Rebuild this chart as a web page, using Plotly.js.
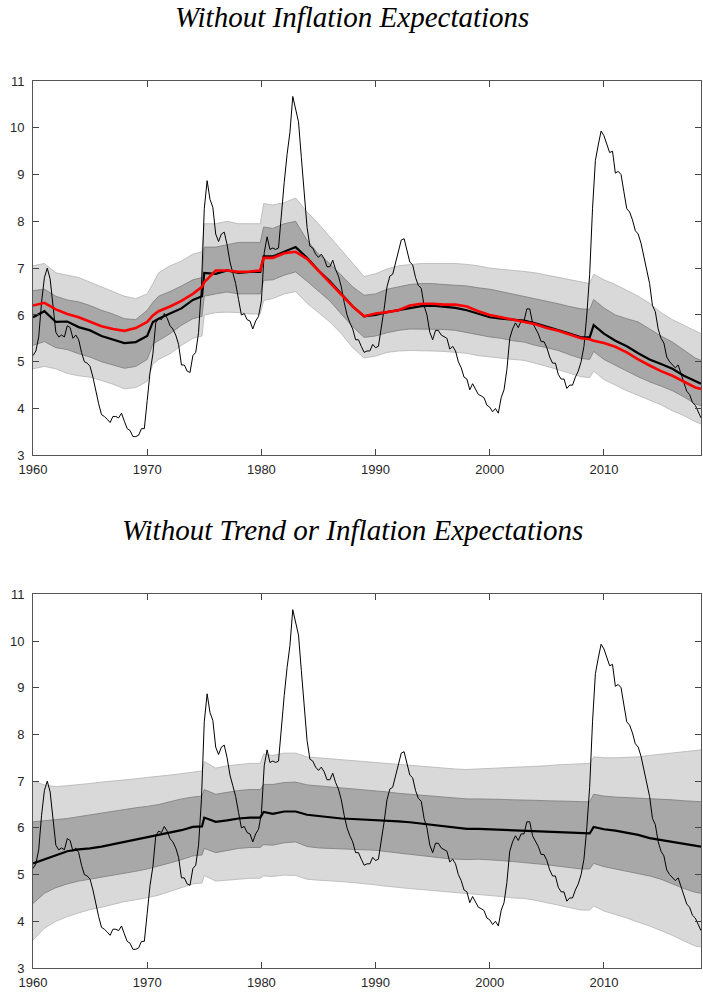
<!DOCTYPE html>
<html>
<head>
<meta charset="utf-8">
<script src="https://cdn.plot.ly/plotly-3.0.1.min.js"></script>
<style>html,body{margin:0;padding:0;background:#fff;}#chart{width:703px;height:993px;}</style>
</head>
<body>
<div id="chart"></div>
<script>
// ---------------- DATA ----------------
const titleTop = "Without Inflation Expectations";
const titleBottom = "Without Trend or Inflation Expectations";
const xTickVals = [1960, 1970, 1980, 1990, 2000, 2010];
const xTickText = ["1960", "1970", "1980", "1990", "2000", "2010"];
const yTickVals = [3, 4, 5, 6, 7, 8, 9, 10, 11];

// quarterly unemployment rate, 1960Q1 .. 2018Q3
const unempStartYear = 1960;
const unemployment = [
5.13,5.23,5.53,6.27, 6.80,7.00,6.77,6.20, 5.63,5.53,5.57,5.53, 5.77,5.73,5.50,5.57,
5.47,5.20,5.00,4.97, 4.90,4.67,4.37,4.10, 3.87,3.83,3.77,3.70, 3.83,3.83,3.80,3.90,
3.73,3.57,3.53,3.40, 3.40,3.43,3.57,3.57, 4.17,4.77,5.17,5.83, 5.93,5.90,6.03,5.93,
5.77,5.70,5.57,5.37, 4.93,4.93,4.80,4.77, 5.13,5.20,5.63,6.60, 8.27,8.87,8.47,8.30,
7.73,7.57,7.73,7.77, 7.50,7.13,6.90,6.67, 6.33,6.00,6.03,5.90, 5.87,5.70,5.87,5.97,
6.30,7.33,7.67,7.40, 7.43,7.40,7.43,8.23, 8.83,9.43,9.90,10.67, 10.37,10.13,9.37,8.53,
7.87,7.47,7.43,7.30, 7.23,7.30,7.20,7.03, 7.03,7.17,6.97,6.83, 6.60,6.27,6.00,5.83,
5.70,5.47,5.47,5.33, 5.20,5.23,5.23,5.37, 5.30,5.33,5.70,6.13, 6.60,6.83,6.87,7.10,
7.37,7.60,7.63,7.37, 7.13,7.07,6.80,6.63, 6.57,6.20,6.00,5.63, 5.47,5.67,5.67,5.57,
5.53,5.50,5.27,5.33, 5.23,5.00,4.87,4.67, 4.63,4.40,4.53,4.43, 4.30,4.27,4.23,4.07,
4.03,3.93,4.00,3.90, 4.23,4.40,4.83,5.50, 5.70,5.83,5.73,5.87, 5.87,6.13,6.13,5.83,
5.70,5.60,5.43,5.43, 5.30,5.10,4.97,4.97, 4.73,4.63,4.63,4.43, 4.50,4.50,4.67,4.80,
5.00,5.33,6.00,6.87, 8.27,9.30,9.63,9.93, 9.83,9.63,9.47,9.50, 9.03,9.07,9.00,8.63,
8.27,8.20,8.03,7.80, 7.73,7.53,7.23,6.93, 6.67,6.20,6.07,5.70, 5.50,5.40,5.10,5.00,
4.93,4.87,4.93,4.73, 4.57,4.37,4.30,4.13, 4.07,3.93,3.80
];

// estimate dates (band / median series)
const estYears = [1960,1961,1962,1963,1964,1965,1966,1967,1968,1969,
1970,1970.5,1971,1972,1973,1974,1974.8,1975,1976,1977,1978,1979,1979.9,
1980.2,1981,1982,1983,1984,1985,1986,1987,1988,1989,
1990,1991,1992,1993,1994,1995,1996,1997,1998,1999,
2000,2001,2002,2003,2004,2005,2006,2007,2008,2008.75,2009.1,
2010,2011,2012,2013,2014,2015,2016,2017,2018,2018.5];

// Panel 1: without inflation expectations
const p1Light90Upper = [7.05,7.1,6.9,6.85,6.8,6.7,6.6,6.5,6.4,6.35,
6.45,6.67,6.9,7.05,7.15,7.3,7.35,7.95,7.95,8.0,7.95,7.95,7.95,
8.38,8.35,8.4,8.5,8.2,7.95,7.67,7.38,7.1,6.82,
6.88,6.98,7.05,7.08,7.1,7.1,7.1,7.1,7.08,7.05,
7.0,6.98,6.95,6.93,6.9,6.85,6.8,6.75,6.7,6.67,6.87,
6.75,6.65,6.53,6.4,6.25,6.05,5.9,5.78,5.65,5.6];
const p1Dark68Upper = [6.52,6.55,6.4,6.32,6.28,6.2,6.1,6.02,5.92,5.9,
6.1,6.27,6.4,6.5,6.62,6.75,6.8,7.45,7.45,7.5,7.55,7.55,7.55,
7.88,7.85,7.95,8.0,7.6,7.3,7.1,6.85,6.6,6.42,
6.45,6.55,6.6,6.65,6.67,6.67,6.65,6.63,6.62,6.58,
6.55,6.5,6.45,6.4,6.35,6.3,6.24,6.18,6.13,6.12,6.33,
6.15,6.0,5.92,5.85,5.7,5.55,5.42,5.25,5.08,5.03];
const p1Median = [5.95,6.08,5.85,5.86,5.74,5.67,5.55,5.48,5.4,5.42,
5.55,5.85,5.92,6.03,6.14,6.32,6.4,6.9,6.88,6.95,6.9,6.92,6.92,
7.25,7.25,7.35,7.45,7.22,6.95,6.72,6.45,6.18,5.97,
6.0,6.06,6.1,6.15,6.19,6.2,6.18,6.15,6.1,6.02,
5.95,5.92,5.9,5.88,5.82,5.75,5.68,5.6,5.52,5.52,5.78,
5.6,5.45,5.33,5.18,5.05,4.95,4.85,4.7,4.58,4.53];
const p1Red = [6.2,6.26,6.12,6.02,5.95,5.85,5.76,5.7,5.66,5.72,
5.85,5.99,6.08,6.18,6.3,6.45,6.6,6.7,6.95,6.95,6.92,6.93,6.95,
7.22,7.22,7.32,7.35,7.2,6.95,6.7,6.43,6.18,5.97,
6.03,6.06,6.1,6.2,6.24,6.24,6.22,6.22,6.18,6.08,
6.0,5.95,5.9,5.86,5.8,5.72,5.66,5.58,5.5,5.48,5.45,
5.4,5.32,5.2,5.05,4.92,4.8,4.7,4.58,4.45,4.42];
const p1Dark68Lower = [5.35,5.43,5.3,5.26,5.17,5.1,5.0,4.93,4.86,4.9,
5.05,5.38,5.45,5.6,5.78,5.92,5.97,6.4,6.45,6.49,6.45,6.45,6.45,
6.74,6.75,6.85,6.92,6.72,6.5,6.3,6.02,5.75,5.52,
5.55,5.62,5.67,5.7,5.7,5.7,5.69,5.67,5.62,5.58,
5.53,5.5,5.45,5.42,5.35,5.3,5.24,5.15,5.07,5.05,5.22,
5.05,4.92,4.8,4.68,4.57,4.48,4.38,4.25,4.1,4.06];
const p1Light90Lower = [4.85,4.9,4.85,4.75,4.7,4.67,4.6,4.52,4.42,4.45,
4.58,4.95,5.05,5.17,5.35,5.5,5.55,6.0,6.05,6.06,6.05,6.02,6.02,
6.31,6.35,6.45,6.5,6.25,6.05,5.85,5.6,5.3,5.08,
5.12,5.2,5.23,5.24,5.24,5.23,5.22,5.2,5.18,5.13,
5.1,5.07,5.05,5.03,4.97,4.9,4.83,4.75,4.68,4.66,4.8,
4.62,4.5,4.38,4.28,4.18,4.08,3.95,3.85,3.72,3.67];

// Panel 2: without trend or inflation expectations
const p2Light90Upper = [7.0,6.92,6.88,6.9,6.92,6.95,6.98,7.0,7.03,7.05,
7.08,7.09,7.1,7.13,7.16,7.2,7.22,7.42,7.28,7.33,7.35,7.38,7.38,
7.58,7.55,7.6,7.6,7.52,7.5,7.48,7.46,7.44,7.42,
7.4,7.38,7.35,7.33,7.31,7.3,7.28,7.26,7.25,7.26,
7.27,7.28,7.29,7.3,7.32,7.33,7.35,7.36,7.38,7.38,7.52,
7.5,7.5,7.51,7.52,7.55,7.58,7.6,7.64,7.66,7.67];
const p2Dark68Upper = [6.13,6.15,6.17,6.2,6.24,6.28,6.32,6.36,6.4,6.43,
6.46,6.48,6.5,6.56,6.62,6.66,6.68,6.82,6.72,6.76,6.8,6.82,6.82,
6.93,6.93,6.97,6.98,6.92,6.9,6.88,6.86,6.84,6.82,
6.8,6.77,6.74,6.72,6.7,6.68,6.66,6.64,6.62,6.62,
6.62,6.61,6.6,6.6,6.59,6.58,6.58,6.57,6.56,6.56,6.72,
6.68,6.66,6.65,6.64,6.62,6.61,6.6,6.58,6.57,6.56];
const p2Median = [5.24,5.33,5.42,5.5,5.54,5.56,5.6,5.65,5.7,5.76,
5.81,5.84,5.86,5.9,5.95,6.02,6.03,6.22,6.13,6.16,6.2,6.22,6.22,
6.34,6.3,6.35,6.35,6.28,6.25,6.23,6.2,6.19,6.18,
6.17,6.16,6.14,6.12,6.09,6.06,6.03,6.0,5.98,5.98,
5.97,5.96,5.95,5.94,5.93,5.92,5.9,5.89,5.88,5.88,6.02,
5.97,5.94,5.9,5.85,5.78,5.74,5.7,5.65,5.61,5.6];
const p2Dark68Lower = [4.38,4.6,4.72,4.8,4.86,4.9,4.94,4.99,5.03,5.07,
5.12,5.15,5.18,5.25,5.32,5.4,5.42,5.56,5.47,5.52,5.56,5.58,5.58,
5.64,5.63,5.68,5.7,5.6,5.57,5.56,5.55,5.54,5.53,
5.52,5.49,5.46,5.43,5.4,5.38,5.35,5.33,5.32,5.33,
5.32,5.3,5.28,5.26,5.24,5.21,5.18,5.15,5.12,5.12,5.24,
5.17,5.12,5.07,5.03,4.97,4.9,4.8,4.7,4.62,4.6];
const p2Light90Lower = [3.6,3.85,4.0,4.1,4.18,4.25,4.3,4.36,4.42,4.46,
4.5,4.53,4.56,4.64,4.72,4.8,4.82,4.98,4.86,4.88,4.9,4.92,4.92,
4.97,4.96,4.99,4.98,4.9,4.88,4.87,4.85,4.83,4.81,
4.78,4.75,4.72,4.7,4.68,4.66,4.64,4.62,4.6,4.58,
4.56,4.53,4.5,4.49,4.45,4.4,4.34,4.29,4.24,4.24,4.33,
4.22,4.15,4.07,3.98,3.9,3.8,3.7,3.58,3.47,3.45];

// ---------------- STYLE ----------------
const lightFill = '#d9d9d9', lightEdge = '#b4b4b4';
const darkFill = '#a8a8a8', darkEdge = '#7c7c7c';

const unempX = unemployment.map((v, i) => unempStartYear + i / 4);

function bandTraces(xa, ya, l90, u90, l68, u68) {
  return [
    {x: estYears, y: l90, xaxis: xa, yaxis: ya, type: 'scatter', mode: 'lines',
     line: {color: lightEdge, width: 0.8}, hoverinfo: 'skip'},
    {x: estYears, y: u90, xaxis: xa, yaxis: ya, type: 'scatter', mode: 'lines', fill: 'tonexty',
     fillcolor: lightFill, line: {color: lightEdge, width: 0.8}, hoverinfo: 'skip'},
    {x: estYears, y: l68, xaxis: xa, yaxis: ya, type: 'scatter', mode: 'lines',
     line: {color: darkEdge, width: 0.8}, hoverinfo: 'skip'},
    {x: estYears, y: u68, xaxis: xa, yaxis: ya, type: 'scatter', mode: 'lines', fill: 'tonexty',
     fillcolor: darkFill, line: {color: darkEdge, width: 0.8}, hoverinfo: 'skip'}
  ];
}

const traces = [].concat(
  bandTraces('x', 'y', p1Light90Lower, p1Light90Upper, p1Dark68Lower, p1Dark68Upper),
  [
    {x: unempX, y: unemployment, xaxis: 'x', yaxis: 'y', type: 'scatter', mode: 'lines',
     line: {color: '#000', width: 1}},
    {x: estYears, y: p1Median, xaxis: 'x', yaxis: 'y', type: 'scatter', mode: 'lines',
     line: {color: '#000', width: 2.2}},
    {x: estYears, y: p1Red, xaxis: 'x', yaxis: 'y', type: 'scatter', mode: 'lines',
     line: {color: '#ff0000', width: 2.6}}
  ],
  bandTraces('x2', 'y2', p2Light90Lower, p2Light90Upper, p2Dark68Lower, p2Dark68Upper),
  [
    {x: unempX, y: unemployment, xaxis: 'x2', yaxis: 'y2', type: 'scatter', mode: 'lines',
     line: {color: '#000', width: 1}},
    {x: estYears, y: p2Median, xaxis: 'x2', yaxis: 'y2', type: 'scatter', mode: 'lines',
     line: {color: '#000', width: 2.2}}
  ]
);

const tickFont = {family: 'Liberation Sans, Arial, sans-serif', size: 13, color: '#262626'};
function xAx(anchor) {
  return {anchor: anchor, domain: [0, 1], range: [1960, 2018.5], tickvals: xTickVals, ticktext: xTickText,
    ticks: 'inside', ticklen: 6, tickwidth: 1, tickcolor: '#444', mirror: 'ticks', showline: true,
    linecolor: '#555', linewidth: 1, showgrid: false, zeroline: false, tickfont: tickFont,
    ticklabelstandoff: 2};
}
function yAx(anchor, dom) {
  return {anchor: anchor, domain: dom, range: [3, 11], tickvals: yTickVals,
    ticks: 'inside', ticklen: 6, tickwidth: 1, tickcolor: '#444', mirror: 'ticks', showline: true,
    linecolor: '#555', linewidth: 1, showgrid: false, zeroline: false, tickfont: tickFont,
    ticklabelstandoff: 5};
}

const titleFont = {family: 'Liberation Serif, Times New Roman, serif', size: 29, color: '#000'};
const layout = {
  width: 703, height: 993,
  margin: {l: 33, r: 2, t: 81, b: 25, pad: 0},
  paper_bgcolor: '#fff', plot_bgcolor: '#fff',
  showlegend: false,
  xaxis: xAx('y'), yaxis: yAx('x', [0.578, 1]),
  xaxis2: xAx('y2'), yaxis2: yAx('x2', [0, 0.4213]),
  annotations: [
    {text: '<i>' + titleTop + '</i>', xref: 'paper', yref: 'paper', x: 0.4768, y: 1.072,
     xanchor: 'center', yanchor: 'middle', showarrow: false, font: titleFont},
    {text: '<i>' + titleBottom + '</i>', xref: 'paper', yref: 'paper', x: 0.4783, y: 0.4938,
     xanchor: 'center', yanchor: 'middle', showarrow: false, font: titleFont}
  ]
};

Plotly.newPlot('chart', traces, layout, {displayModeBar: false, staticPlot: true});
</script>
</body>
</html>
